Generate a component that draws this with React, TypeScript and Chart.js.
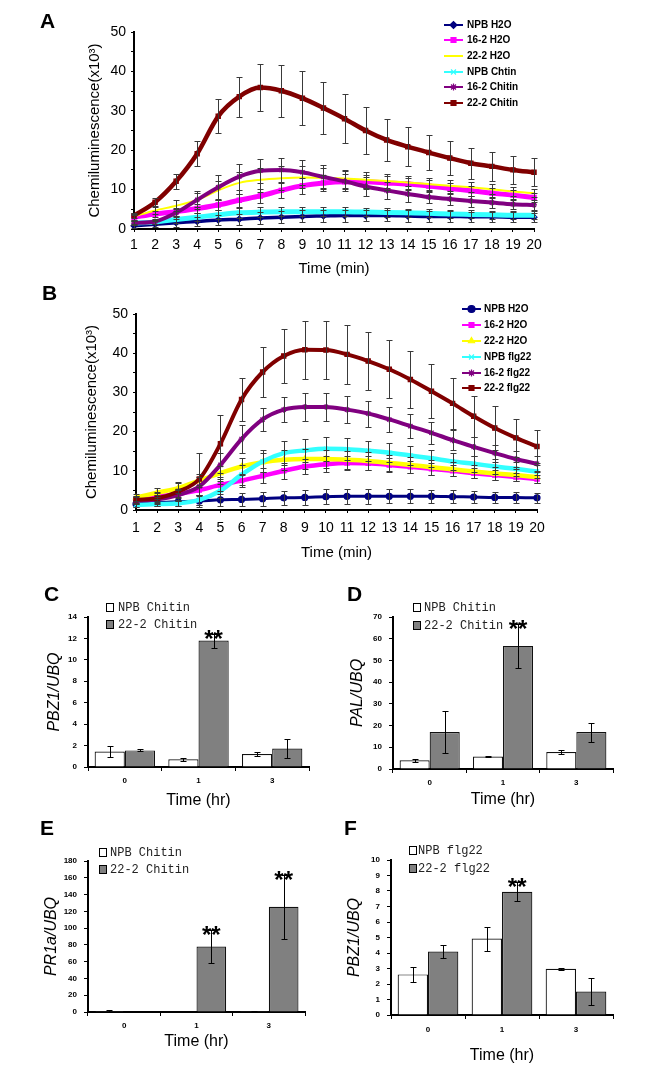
import React, { useEffect, useRef } from 'react';
import { Chart, registerables } from 'chart.js';
import { drawPoint } from 'chart.js/helpers';

Chart.register(...registerables);

const SANS = '"Liberation Sans", Arial, Helvetica, sans-serif';
const MONO = '"Liberation Mono", "Courier New", monospace';

// ---------------- Panels A and B (time courses) ----------------
const minuteLabels = ['1', '2', '3', '4', '5', '6', '7', '8', '9', '10', '11', '12', '13', '14', '15', '16', '17', '18', '19', '20'];
const chemTitle = 'Chemiluminescence(x10\u00B3)';
const minuteTitle = 'Time (min)';

// Panel A
const aNames = ['NPB H2O', '16-2 H2O', '22-2 H2O', 'NPB Chtin', '16-2 Chitin', '22-2 Chitin'];
const aNpbH2o = [0.8, 1.2, 1.6, 1.9, 2.3, 2.5, 2.8, 3.0, 3.2, 3.3, 3.4, 3.4, 3.4, 3.3, 3.2, 3.2, 3.1, 3.1, 3.0, 3.0];
const aNpbH2oErr = [0.5, 0.8, 1.0, 1.2, 1.3, 1.4, 1.5, 1.5, 1.5, 1.5, 1.5, 1.4, 1.4, 1.4, 1.3, 1.3, 1.2, 1.2, 1.2, 1.1];
const a162H2o = [3.0, 3.8, 4.4, 5.2, 6.1, 7.3, 8.4, 9.8, 11.0, 11.7, 12.0, 12.0, 11.7, 11.4, 10.9, 10.3, 9.7, 9.1, 8.6, 8.0];
const a162H2oErr = [0.6, 0.8, 1.0, 1.2, 1.4, 1.6, 1.8, 1.9, 2.0, 2.0, 1.9, 1.8, 1.7, 1.6, 1.5, 1.4, 1.3, 1.2, 1.2, 1.1];
const a222H2o = [3.2, 4.7, 5.9, 7.4, 9.8, 11.7, 12.5, 12.9, 13.1, 13.0, 12.8, 12.5, 12.2, 11.8, 11.4, 11.0, 10.6, 10.1, 9.5, 9.1];
const a222H2oErr = [0.8, 1.0, 1.4, 1.8, 2.4, 2.8, 3.0, 3.0, 2.8, 2.6, 2.3, 2.0, 1.8, 1.6, 1.5, 1.4, 1.3, 1.2, 1.2, 1.1];
const aNpbChitin = [1.5, 1.8, 2.4, 3.0, 3.6, 4.1, 4.3, 4.4, 4.4, 4.4, 4.4, 4.3, 4.2, 4.1, 4.0, 3.8, 3.7, 3.6, 3.5, 3.5];
const aNpbChitinErr = [0.5, 0.6, 0.8, 1.0, 1.1, 1.2, 1.2, 1.2, 1.2, 1.2, 1.2, 1.1, 1.1, 1.1, 1.0, 1.0, 1.0, 1.0, 1.0, 1.0];
const a162Chitin = [1.5, 1.9, 4.1, 7.4, 10.6, 13.3, 14.8, 15.0, 14.4, 13.2, 12.1, 10.8, 9.8, 8.9, 8.1, 7.6, 7.1, 6.7, 6.3, 6.1];
const a162ChitinErr = [0.5, 0.6, 1.0, 2.2, 3.2, 3.3, 3.0, 3.0, 3.2, 3.0, 2.5, 2.4, 2.1, 2.0, 1.6, 1.5, 1.4, 1.4, 1.3, 1.3];
const a222Chitin = [3.4, 6.8, 12.1, 19.1, 28.6, 33.6, 35.9, 35.1, 33.2, 30.7, 28.0, 25.0, 22.6, 20.9, 19.4, 18.0, 16.7, 15.9, 15.0, 14.4];
const a222ChitinErr = [0.5, 1.0, 1.9, 3.2, 4.3, 5.1, 6.0, 6.6, 6.9, 6.6, 6.2, 5.9, 5.4, 4.9, 4.5, 4.3, 3.9, 3.7, 3.6, 3.5];

// Panel B
const bNames = ['NPB H2O', '16-2 H2O', '22-2 H2O', 'NPB flg22', '16-2 flg22', '22-2 flg22'];
const bNpbH2o = [1.5, 1.9, 2.1, 2.3, 2.6, 2.7, 2.9, 3.1, 3.2, 3.4, 3.5, 3.5, 3.5, 3.5, 3.5, 3.4, 3.3, 3.2, 3.2, 3.1];
const bNpbH2oErr = [0.8, 1.0, 1.2, 1.5, 1.6, 1.7, 1.8, 1.8, 1.9, 1.9, 1.9, 1.9, 1.8, 1.8, 1.7, 1.6, 1.5, 1.5, 1.4, 1.3];
const b162H2o = [2.7, 3.4, 4.1, 5.1, 6.4, 7.5, 8.7, 10.0, 11.1, 11.7, 12.0, 11.9, 11.5, 11.0, 10.5, 10.0, 9.4, 8.9, 8.4, 7.9];
const b162H2oErr = [0.8, 1.0, 1.1, 1.3, 1.5, 1.7, 1.9, 2.0, 2.0, 2.0, 1.9, 1.8, 1.7, 1.6, 1.5, 1.4, 1.3, 1.2, 1.1, 1.1];
const b222H2o = [3.2, 4.4, 5.6, 7.5, 9.4, 11.1, 12.2, 12.8, 13.0, 13.0, 12.8, 12.5, 12.0, 11.5, 10.9, 10.4, 9.8, 9.3, 8.9, 8.4];
const b222H2oErr = [0.8, 1.1, 1.3, 1.6, 1.9, 2.2, 2.4, 2.5, 2.5, 2.4, 2.3, 2.2, 2.1, 2.0, 1.9, 1.8, 1.7, 1.6, 1.5, 1.4];
const bNpbFlg = [1.3, 1.5, 1.7, 2.6, 4.9, 9.0, 12.4, 14.5, 15.2, 15.6, 15.5, 15.1, 14.6, 13.9, 13.2, 12.4, 11.8, 11.1, 10.5, 9.8];
const bNpbFlgErr = [0.5, 0.6, 0.8, 1.2, 1.8, 2.5, 2.8, 3.0, 3.0, 3.0, 2.8, 2.6, 2.4, 2.3, 2.2, 2.1, 2.0, 1.9, 1.8, 1.7];
const b162Flg = [2.4, 2.7, 3.8, 6.0, 11.5, 18.1, 23.1, 25.6, 26.3, 26.3, 25.6, 24.6, 23.1, 21.4, 19.7, 17.8, 16.1, 14.5, 13.0, 11.8];
const b162FlgErr = [0.8, 1.0, 1.5, 2.5, 3.0, 3.5, 3.0, 3.2, 3.6, 3.5, 3.4, 3.3, 3.1, 3.0, 2.8, 2.6, 2.4, 2.2, 2.0, 1.9];
const b222Flg = [2.6, 3.0, 4.7, 7.9, 16.9, 28.2, 35.2, 39.3, 40.9, 40.8, 39.7, 38.0, 35.9, 33.3, 30.3, 27.2, 23.9, 20.9, 18.4, 16.2];
const b222FlgErr = [1.0, 1.5, 2.5, 6.6, 7.4, 5.5, 6.3, 7.0, 7.4, 7.5, 7.5, 7.5, 7.4, 7.3, 6.9, 6.6, 5.3, 5.6, 4.8, 4.1];

// Series styles
const seriesColors = ['#000080', '#FF00FF', '#FFFF00', '#33FFFF', '#800080', '#800000'];
const aMarkers: (string | false)[] = ['rectRot', 'rect', false, 'crossRot', 'star', 'rect'];
const bMarkers: (string | false)[] = ['circle', 'rect', 'triangle', 'crossRot', 'star', 'rect'];
const aWidths = [3.5, 5, 2, 5, 4, 4.5];
const bWidths = [3, 4.5, 4.5, 4.5, 4, 4];

// ---------------- Panels C–F (bar charts) ----------------
const hourLabels = ['0', '1', '3'];
const hourTitle = 'Time (hr)';

const cNames = ['NPB Chitin', '22-2 Chitin'];
const cNpb = [1.45, 0.72, 1.22];
const cNpbErr = [0.48, 0.15, 0.15];
const c222 = [1.55, 11.8, 1.72];
const c222Err = [0.1, 0.66, 0.92];
const cSignif = ['', '**', ''];

const dNames = ['NPB Chitin', '22-2 Chitin'];
const dNpb = [4.0, 5.7, 7.8];
const dNpbErr = [0.6, 0.3, 1.0];
const d222 = [17.0, 56.7, 17.0];
const d222Err = [9.6, 10.0, 4.4];
const dSignif = ['', '**', ''];

const eNames = ['NPB Chitin', '22-2 Chitin'];
const eNpb = [1.0, 0.3, 1.0];
const eNpbErr = [1.5, 0, 0.6];
const e222 = [0.5, 78, 125.5];
const e222Err = [0, 20, 38];
const eSignif = ['', '**', '**'];

const fNames = ['NPB flg22', '22-2 flg22'];
const fNpb = [2.62, 4.93, 2.98];
const fNpbErr = [0.5, 0.77, 0.05];
const f222 = [4.1, 7.95, 1.52];
const f222Err = [0.4, 0.6, 0.86];
const fSignif = ['', '**', ''];

// ---------------- plugins ----------------
const errorBarsPlugin = {
  id: 'errorBars',
  afterDatasetsDraw(chart: any, _args: any, opts: any) {
    const { ctx, chartArea } = chart;
    const ys = chart.scales.y;
    ctx.save();
    ctx.beginPath();
    ctx.rect(chartArea.left - 10, chartArea.top - 30, chartArea.right - chartArea.left + 20, chartArea.bottom - chartArea.top + 30);
    ctx.clip();
    ctx.strokeStyle = opts.color || '#000';
    ctx.lineWidth = opts.lineWidth || 1;
    const cap = opts.cap || 3;
    chart.data.datasets.forEach((ds: any, di: number) => {
      if (!ds.errors) return;
      const meta = chart.getDatasetMeta(di);
      meta.data.forEach((el: any, i: number) => {
        const v = ds.data[i];
        const e = ds.errors[i];
        if (v == null || !e) return;
        const x = Math.round(el.x) + 0.5;
        const yTop = Math.round(ys.getPixelForValue(v + e)) + 0.5;
        const yBot = Math.round(ys.getPixelForValue(v - e)) + 0.5;
        ctx.beginPath();
        ctx.moveTo(x, yTop);
        ctx.lineTo(x, yBot);
        ctx.moveTo(x - cap, yTop);
        ctx.lineTo(x + cap, yTop);
        ctx.moveTo(x - cap, yBot);
        ctx.lineTo(x + cap, yBot);
        ctx.stroke();
      });
    });
    ctx.restore();
  },
};

const signifPlugin = {
  id: 'signif',
  afterDatasetsDraw(chart: any) {
    const { ctx } = chart;
    const ys = chart.scales.y;
    ctx.save();
    ctx.fillStyle = '#000';
    ctx.font = `bold 24px ${SANS}`;
    ctx.textAlign = 'center';
    ctx.textBaseline = 'alphabetic';
    chart.data.datasets.forEach((ds: any, di: number) => {
      if (!ds.signif) return;
      const meta = chart.getDatasetMeta(di);
      meta.data.forEach((el: any, i: number) => {
        const mark = ds.signif[i];
        if (!mark) return;
        const top = ys.getPixelForValue(ds.data[i] + (ds.errors ? ds.errors[i] : 0));
        ctx.fillText(mark, el.x, top + 13);
      });
    });
    ctx.restore();
  },
};

const lineLegendPlugin = {
  id: 'lineLegend',
  afterDraw(chart: any, _args: any, opts: any) {
    if (!opts || !opts.rows) return;
    const { ctx } = chart;
    ctx.save();
    chart.data.datasets.forEach((ds: any, i: number) => {
      const y = opts.rows[i];
      ctx.strokeStyle = ds.borderColor;
      ctx.fillStyle = ds.borderColor;
      ctx.lineWidth = 2;
      ctx.beginPath();
      ctx.moveTo(opts.x0, y);
      ctx.lineTo(opts.x1, y);
      ctx.stroke();
      if (ds.legendMarker) {
        ctx.lineWidth = 1.2;
        drawPoint(ctx, { pointStyle: ds.legendMarker, rotation: 0, radius: 3.5, borderWidth: 1.2 } as any, (opts.x0 + opts.x1) / 2, y);
      }
      ctx.fillStyle = '#000';
      ctx.font = `bold 10px ${SANS}`;
      ctx.textAlign = 'left';
      ctx.textBaseline = 'middle';
      ctx.fillText(ds.label, opts.textX, y);
    });
    ctx.restore();
  },
};

const barLegendPlugin = {
  id: 'barLegend',
  afterDraw(chart: any, _args: any, opts: any) {
    if (!opts || !opts.rows) return;
    const { ctx } = chart;
    ctx.save();
    chart.data.datasets.forEach((ds: any, i: number) => {
      const y = opts.rows[i];
      ctx.fillStyle = ds.backgroundColor;
      ctx.fillRect(opts.boxX, y - 4, 7, 8);
      ctx.strokeStyle = '#000';
      ctx.lineWidth = 1;
      ctx.strokeRect(opts.boxX + 0.5, y - 3.5, 7, 8);
      ctx.fillStyle = '#222';
      ctx.font = `12px ${MONO}`;
      ctx.textAlign = 'left';
      ctx.textBaseline = 'middle';
      ctx.fillText(ds.label, opts.textX, y + 1);
    });
    ctx.restore();
  },
};

// ---------------- config builders ----------------
type Rect = { left: number; right: number; top: number; bottom: number };

function lineDatasets(names: string[], values: number[][], errors: number[][], markers: (string | false)[], widths: number[]) {
  return names.map((label, i) => ({
    label,
    data: values[i],
    errors: errors[i],
    borderColor: seriesColors[i],
    backgroundColor: seriesColors[i],
    borderWidth: widths[i],
    pointStyle: markers[i] || 'circle',
    pointRadius: markers[i] ? 3 : 0,
    pointBorderWidth: 1.2,
    pointBackgroundColor: seriesColors[i],
    pointBorderColor: seriesColors[i],
    cubicInterpolationMode: 'monotone',
    legendMarker: markers[i],
    order: names.length - i,
  }));
}

function lineConfig(p: {
  w: number; h: number; plot: Rect; datasets: any[];
  yTitlePad: number; xTickPad: number; xTitlePad: number;
  legend: { x0: number; x1: number; textX: number; rows: number[] };
}) {
  return {
    type: 'line',
    data: { labels: minuteLabels, datasets: p.datasets },
    plugins: [errorBarsPlugin, lineLegendPlugin],
    options: {
      responsive: false,
      animation: false,
      devicePixelRatio: 1,
      layout: { padding: { left: 0, top: p.plot.top, right: p.w - p.plot.right, bottom: 0 } },
      plugins: {
        legend: { display: false },
        tooltip: { enabled: false },
        errorBars: { color: '#3a3a3a', lineWidth: 1, cap: 3 },
        lineLegend: p.legend,
      },
      scales: {
        x: {
          type: 'category',
          offset: false,
          grid: { display: true, drawOnChartArea: false, drawTicks: true, tickLength: 3, color: '#000' },
          border: { display: true, color: '#000', width: 2 },
          ticks: { color: '#000', font: { family: SANS, size: 14 }, padding: p.xTickPad, maxRotation: 0, autoSkip: false },
          title: { display: true, text: minuteTitle, color: '#000', font: { family: SANS, size: 15 }, padding: { top: 0, bottom: p.xTitlePad } },
          afterFit: (s: any) => { s.height = p.h - p.plot.bottom; },
        },
        y: {
          min: 0,
          max: 50,
          grid: { display: true, drawOnChartArea: false, drawTicks: true, tickLength: 3, color: '#000' },
          border: { display: true, color: '#000', width: 2 },
          ticks: {
            stepSize: 5,
            autoSkip: false,
            color: '#000',
            font: { family: SANS, size: 14 },
            padding: 5,
            callback: (v: any) => (Number(v) % 10 === 0 ? String(v) : ''),
          },
          title: { display: true, text: chemTitle, color: '#000', font: { family: SANS, size: 15 }, padding: { top: p.yTitlePad, bottom: 0 } },
          afterFit: (s: any) => { s.width = p.plot.left; },
        },
      },
    },
  };
}

function barConfig(p: {
  w: number; h: number; plot: Rect; names: string[];
  npb: number[]; npbErr: number[]; treated: number[]; treatedErr: number[]; signif: string[];
  yMax: number; yStep: number; yTitle: string;
  yTitlePad: number; xTickPad: number; xTitlePad: number;
  legend: { boxX: number; textX: number; rows: number[] };
}) {
  return {
    type: 'bar',
    data: {
      labels: hourLabels,
      datasets: [
        { label: p.names[0], data: p.npb, errors: p.npbErr, backgroundColor: '#FFFFFF', borderColor: '#111', borderWidth: 1.2, categoryPercentage: 0.82, barPercentage: 1 },
        { label: p.names[1], data: p.treated, errors: p.treatedErr, signif: p.signif, backgroundColor: '#808080', borderColor: '#111', borderWidth: 1.2, categoryPercentage: 0.82, barPercentage: 1 },
      ],
    },
    plugins: [errorBarsPlugin, signifPlugin, barLegendPlugin],
    options: {
      responsive: false,
      animation: false,
      devicePixelRatio: 1,
      layout: { padding: { left: 0, top: p.plot.top, right: p.w - p.plot.right, bottom: 0 } },
      plugins: {
        legend: { display: false },
        tooltip: { enabled: false },
        errorBars: { color: '#000', lineWidth: 1, cap: 3 },
        barLegend: p.legend,
      },
      scales: {
        x: {
          type: 'category',
          offset: true,
          grid: { display: true, offset: true, drawOnChartArea: false, drawTicks: true, tickLength: 4, color: '#000' },
          border: { display: true, color: '#000', width: 2 },
          ticks: { color: '#000', font: { family: SANS, size: 8, weight: 'bold' }, padding: p.xTickPad, maxRotation: 0 },
          title: { display: true, text: hourTitle, color: '#000', font: { family: SANS, size: 16 }, padding: { top: 0, bottom: p.xTitlePad } },
          afterFit: (s: any) => { s.height = p.h - p.plot.bottom; },
        },
        y: {
          min: 0,
          max: p.yMax,
          grid: { display: true, drawOnChartArea: false, drawTicks: true, tickLength: 4, color: '#000' },
          border: { display: true, color: '#000', width: 2 },
          ticks: { stepSize: p.yStep, autoSkip: false, color: '#000', font: { family: SANS, size: 8, weight: 'bold' }, padding: 7 },
          title: { display: true, text: p.yTitle, color: '#000', font: { family: SANS, size: 16, style: 'italic' }, padding: { top: p.yTitlePad, bottom: 0 } },
          afterFit: (s: any) => { s.width = p.plot.left; },
        },
      },
    },
  };
}

// ---------------- components ----------------
function ChartCanvas(props: { left: number; top: number; width: number; height: number; make: () => any }) {
  const ref = useRef<HTMLCanvasElement>(null);
  useEffect(() => {
    const chart = new Chart(ref.current as HTMLCanvasElement, props.make());
    return () => chart.destroy();
  }, []);
  return (
    <canvas
      ref={ref}
      width={props.width}
      height={props.height}
      style={{ position: 'absolute', left: props.left, top: props.top, width: props.width, height: props.height }}
    />
  );
}

function Letter(props: { x: number; y: number; text: string }) {
  return (
    <div
      style={{
        position: 'absolute',
        left: props.x - 8,
        top: props.y - 10,
        font: `bold 21px ${SANS}`,
        lineHeight: '21px',
        color: '#000',
      }}
    >
      {props.text}
    </div>
  );
}

export default function App() {
  return (
    <div style={{ position: 'absolute', left: 0, top: 0, width: 660, height: 1080, background: '#fff', overflow: 'hidden' }}>
      <ChartCanvas
        left={0} top={0} width={600} height={290}
        make={() => lineConfig({
          w: 600, h: 290,
          plot: { left: 134, right: 534, top: 32, bottom: 229 },
          datasets: lineDatasets(
            aNames,
            [aNpbH2o, a162H2o, a222H2o, aNpbChitin, a162Chitin, a222Chitin],
            [aNpbH2oErr, a162H2oErr, a222H2oErr, aNpbChitinErr, a162ChitinErr, a222ChitinErr],
            aMarkers, aWidths),
          yTitlePad: 86, xTickPad: 5, xTitlePad: 12,
          legend: { x0: 444, x1: 463, textX: 467, rows: [25, 40, 56, 72, 87, 103] },
        })}
      />
      <ChartCanvas
        left={0} top={290} width={600} height={280}
        make={() => lineConfig({
          w: 600, h: 280,
          plot: { left: 136, right: 537, top: 24, bottom: 220 },
          datasets: lineDatasets(
            bNames,
            [bNpbH2o, b162H2o, b222H2o, bNpbFlg, b162Flg, b222Flg],
            [bNpbH2oErr, b162H2oErr, b222H2oErr, bNpbFlgErr, b162FlgErr, b222FlgErr],
            bMarkers, bWidths),
          yTitlePad: 83, xTickPad: 7, xTitlePad: 8,
          legend: { x0: 462, x1: 481, textX: 484, rows: [19, 35, 51, 67, 83, 98] },
        })}
      />
      <ChartCanvas
        left={0} top={580} width={330} height={240}
        make={() => barConfig({
          w: 330, h: 240, plot: { left: 88, right: 309, top: 37, bottom: 187 },
          names: cNames, npb: cNpb, npbErr: cNpbErr, treated: c222, treatedErr: c222Err, signif: cSignif,
          yMax: 14, yStep: 2, yTitle: 'PBZ1/UBQ',
          yTitlePad: 45.4, xTickPad: 5, xTitlePad: 9.4,
          legend: { boxX: 106, textX: 118, rows: [27, 44] },
        })}
      />
      <ChartCanvas
        left={330} top={580} width={300} height={240}
        make={() => barConfig({
          w: 300, h: 240, plot: { left: 63, right: 283, top: 37, bottom: 189 },
          names: dNames, npb: dNpb, npbErr: dNpbErr, treated: d222, treatedErr: d222Err, signif: dSignif,
          yMax: 70, yStep: 10, yTitle: 'PAL/UBQ',
          yTitlePad: 18.4, xTickPad: 5.2, xTitlePad: 10.4,
          legend: { boxX: 83, textX: 94, rows: [27, 45] },
        })}
      />
      <ChartCanvas
        left={0} top={830} width={330} height={240}
        make={() => barConfig({
          w: 330, h: 240, plot: { left: 88, right: 305, top: 31, bottom: 182 },
          names: eNames, npb: eNpb, npbErr: eNpbErr, treated: e222, treatedErr: e222Err, signif: eSignif,
          yMax: 180, yStep: 20, yTitle: 'PR1a/UBQ',
          yTitlePad: 42.4, xTickPad: 5.2, xTitlePad: 18.4,
          legend: { boxX: 99, textX: 110, rows: [22, 39] },
        })}
      />
      <ChartCanvas
        left={330} top={830} width={300} height={250}
        make={() => barConfig({
          w: 300, h: 250, plot: { left: 61, right: 283, top: 30, bottom: 185 },
          names: fNames, npb: fNpb, npbErr: fNpbErr, treated: f222, treatedErr: f222Err, signif: fSignif,
          yMax: 10, yStep: 1, yTitle: 'PBZ1/UBQ',
          yTitlePad: 15.4, xTickPad: 6.2, xTitlePad: 14.4,
          legend: { boxX: 79, textX: 88, rows: [20, 38] },
        })}
      />
      <Letter x={48} y={20} text="A" />
      <Letter x={50} y={292} text="B" />
      <Letter x={52} y={593} text="C" />
      <Letter x={355} y={593} text="D" />
      <Letter x={48} y={827} text="E" />
      <Letter x={352} y={827} text="F" />
    </div>
  );
}
